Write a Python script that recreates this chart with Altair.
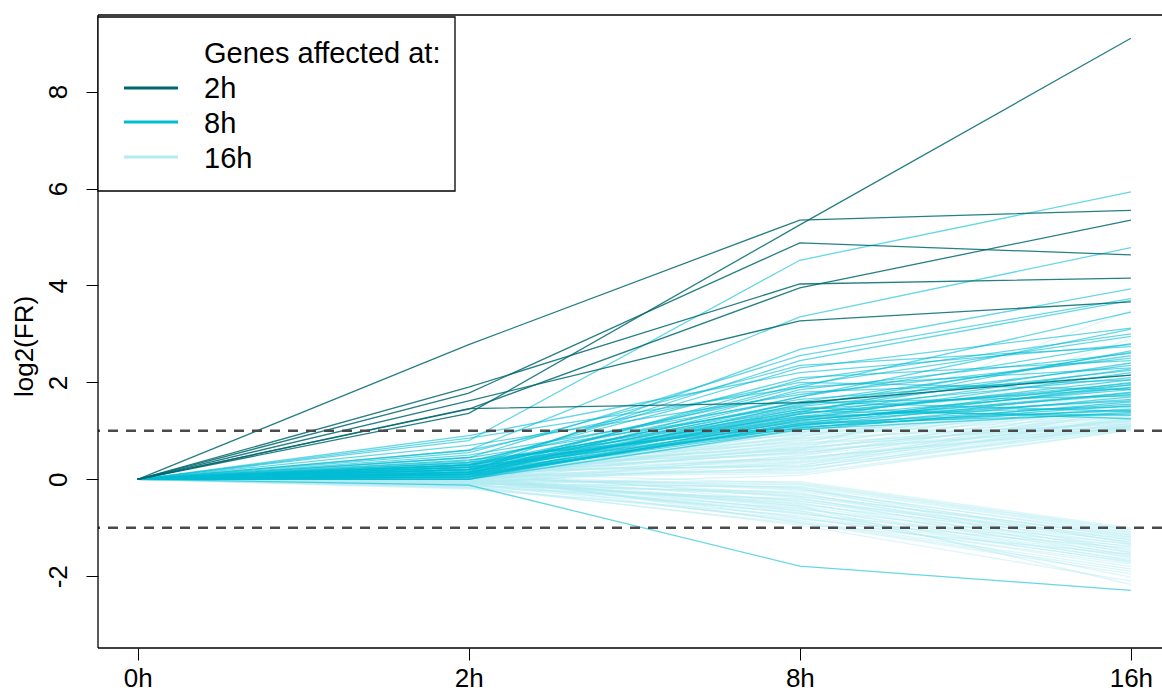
import altair as alt
import pandas as pd

# Time points and their axis labels
TIME_LABELS = ["0h", "2h", "8h", "16h"]

# log2 fold ratio of each gene at 2h / 8h / 16h (0h is the reference, always 0)
# Genes first affected at 2h
G2_AT_2H = [2.78, 1.36, 1.78, 1.90, 1.45, 1.62, 1.46]
G2_AT_8H = [5.35, 5.25, 4.88, 4.03, 3.95, 3.27, 1.58]
G2_AT_16H = [5.55, 9.10, 4.63, 4.15, 5.35, 3.66, 2.15]

# Genes first affected at 8h
G8_AT_2H = [0.80, 0.60, 0.15, 0.45, 0.25, 0.30, 0.10, 0.90, 0.55, 0.20,
            0.05, 0.35, 0.15, 0.25, 0.00, 0.30, 0.10, 0.20, 0.05, 0.35,
            0.15, 0.25, 0.00, 0.10, 0.30, 0.20, 0.05, 0.40, 0.15, 0.25,
            0.10, 0.00, 0.20, 0.30, 0.50, 0.70, 0.85, 0.60, -0.12, 0.12,
            0.18, 0.22, 0.08, 0.28, 0.38, 0.02, 0.14, 0.33, 0.06, 0.45,
            0.20, 0.30, 0.12, 0.24, 0.04, 0.16]
G8_AT_8H = [4.52, 3.35, 2.68, 2.55, 2.45, 2.30, 2.05, 2.20, 2.35, 1.95,
            1.85, 2.10, 1.70, 1.60, 1.55, 1.50, 1.45, 1.40, 1.35, 1.30,
            1.28, 1.25, 1.22, 1.20, 1.18, 1.15, 1.12, 1.10, 1.08, 1.05,
            1.03, 1.02, 1.30, 1.40, 1.65, 1.75, 1.90, 2.00, -1.79, 1.60,
            1.38, 1.48, 1.12, 1.58, 1.80, 1.26, 1.34, 1.44, 1.16, 1.52,
            1.90, 1.70, 1.06, 1.22, 1.14, 1.36]
G8_AT_16H = [5.93, 4.78, 3.93, 3.73, 3.69, 3.12, 3.00, 2.78, 2.74, 2.95,
             2.60, 2.45, 2.80, 2.55, 2.35, 2.25, 2.10, 2.40, 1.95, 2.05,
             1.85, 2.20, 1.75, 1.90, 1.65, 2.00, 1.55, 1.80, 1.45, 1.70,
             1.38, 1.60, 1.50, 1.32, 2.15, 2.50, 2.30, 1.85, -2.29, 1.40,
             2.65, 1.25, 1.95, 1.72, 2.05, 1.62, 2.28, 1.88, 1.42, 2.62,
             3.45, 3.10, 1.52, 1.78, 1.35, 1.98]

# Genes first affected at 16h
G16_AT_2H = [0.05, 0.10, -0.05, 0.15, 0.00, 0.20, 0.08, -0.10, 0.12, 0.25,
             0.03, 0.18, 0.30, 0.06, 0.22, -0.02, 0.14, 0.35, 0.09, 0.02,
             0.16, -0.08, 0.11, 0.27, 0.04, 0.19, 0.07, 0.32, -0.04, 0.13,
             0.24, 0.01, 0.17, 0.40, 0.10, 0.05, 0.21, 0.00, 0.12, 0.28,
             0.08, 0.15, 0.20, 0.10, 0.45, -0.12, 0.03, 0.26, 0.14, 0.09,
             -0.05, 0.00, -0.10, 0.05, -0.15, 0.08, -0.02, -0.18, 0.10, -0.07,
             0.02, -0.12, 0.06, -0.04, -0.20, 0.03, -0.09, 0.12, -0.14, -0.01,
             0.04, -0.06, -0.11, 0.07, -0.03, 0.01, -0.16, 0.09, -0.08, 0.15,
             -0.05, 0.00, -0.13, 0.05, -0.02, -0.10, 0.02, -0.06, 0.11, -0.17,
             0.13, -0.09]
G16_AT_8H = [0.12, 0.20, 0.25, 0.30, 0.35, 0.40, 0.45, 0.50, 0.55, 0.60,
             0.65, 0.70, 0.75, 0.80, 0.85, 0.90, 0.95, 0.98, 0.15, 0.22,
             0.28, 0.33, 0.38, 0.42, 0.48, 0.52, 0.58, 0.62, 0.68, 0.72,
             0.78, 0.82, 0.88, 0.92, 0.96, 0.18, 0.26, 0.44, 0.56, 0.66,
             0.74, 0.86, 0.60, 0.94, 0.97, 0.08, 0.36, 0.54, 0.64, 0.84,
             -0.05, -0.10, -0.15, -0.20, -0.25, -0.30, -0.35, -0.40, -0.45, -0.50,
             -0.55, -0.60, -0.65, -0.70, -0.75, -0.80, -0.85, -0.90, -0.95, -0.12,
             -0.22, -0.32, -0.42, -0.52, -0.62, -0.72, -0.82, -0.18, -0.28, -0.38,
             -0.48, -0.58, -0.68, -0.78, -0.88, -0.65, -0.55, -0.45, -0.35, -0.92,
             -0.08, -0.16]
G16_AT_16H = [1.02, 1.05, 1.08, 1.10, 1.12, 1.15, 1.04, 1.18, 1.20, 1.06,
              1.22, 1.25, 1.09, 1.28, 1.14, 1.30, 1.35, 1.40, 1.32, 1.45,
              1.50, 1.16, 1.55, 1.24, 1.60, 1.38, 1.65, 1.42, 1.70, 1.48,
              1.75, 1.52, 1.80, 1.58, 1.90, 1.11, 1.03, 1.07, 1.13, 1.19,
              2.10, 2.40, 2.90, 3.48, 2.20, 1.01, 1.26, 1.34, 1.21, 1.62,
              -1.00, -1.05, -1.10, -1.15, -1.20, -1.25, -1.30, -1.35, -1.40, -1.45,
              -1.50, -1.55, -1.60, -1.65, -1.70, -1.75, -1.85, -1.95, -2.10, -1.08,
              -1.12, -1.18, -1.22, -1.28, -1.33, -1.38, -1.42, -1.48, -1.52, -1.58,
              -1.62, -1.68, -1.72, -1.80, -1.90, -2.02, -2.17, -1.25, -1.15, -1.55,
              -1.03, -1.32]

THRESHOLDS = [1, -1]

GROUPS = [
    # name, values at 2h/8h/16h, colour, opacity
    ("16h", G16_AT_2H, G16_AT_8H, G16_AT_16H, "#b2ebf2", 0.45),
    ("8h", G8_AT_2H, G8_AT_8H, G8_AT_16H, "#00bcd4", 0.6),
    ("2h", G2_AT_2H, G2_AT_8H, G2_AT_16H, "#00686e", 0.85),
]

W, H = 1064, 633
FONT = "Liberation Sans"
FS = 26

x_scale = alt.Scale(domain=[-0.12, 3.094], nice=False, zero=False)
y_scale = alt.Scale(domain=[-3.48, 9.58], nice=False, zero=False)

label_expr = "[" + ",".join("'%s'" % s for s in TIME_LABELS) + "][datum.value]"
x_axis = alt.Axis(values=[0, 1, 2, 3], labelExpr=label_expr, title=None,
                  grid=False, domain=False, tickSize=12, tickColor="black",
                  tickWidth=1, labelFontSize=FS, labelFont=FONT,
                  labelColor="black", labelPadding=26,
                  labelBaseline="alphabetic")
y_axis = alt.Axis(values=[-2, 0, 2, 4, 6, 8], labelExpr="toString(datum.value)",
                  title="log2(FR)", grid=False,
                  domain=False, tickSize=12, tickColor="black", tickWidth=1,
                  labelFontSize=FS, labelFont=FONT, labelColor="black",
                  labelAngle=270, labelAlign="center",
                  labelBaseline="alphabetic", labelPadding=20,
                  titleFont=FONT, titleFontSize=FS, titleFontWeight="normal",
                  titleColor="black", titleAngle=270, titleX=-66, titleY=331,
                  titleAlign="center", titleBaseline="alphabetic")


def gene_lines(name, a2, a8, a16, colour, opacity):
    rows = []
    for i, (v2, v8, v16) in enumerate(zip(a2, a8, a16)):
        for t, v in enumerate([0.0, v2, v8, v16]):
            rows.append({"gene": f"{name}-{i}", "t": t, "v": v})
    return alt.Chart(pd.DataFrame(rows)).mark_line(
        color=colour, opacity=opacity, strokeWidth=1.3
    ).encode(
        x=alt.X("t:Q", scale=x_scale, axis=x_axis),
        y=alt.Y("v:Q", scale=y_scale, axis=y_axis),
        detail="gene:N",
        order="t:Q",
    )


layers = [gene_lines(*g) for g in GROUPS]

# dashed fold-change thresholds
layers.append(
    alt.Chart(pd.DataFrame({"v": THRESHOLDS})).mark_rule(
        color="#4a4a4a", strokeWidth=2.5, strokeDash=[10, 8]
    ).encode(y=alt.Y("v:Q", scale=y_scale, axis=y_axis))
)

one = pd.DataFrame({"k": [0]})

# plot frame (top, left, bottom)
frame = alt.Chart(one).mark_rule(color="black", strokeWidth=1.3)
layers += [
    frame.encode(x=alt.value(0), x2=alt.value(W), y=alt.value(0)),
    frame.encode(x=alt.value(0), y=alt.value(0), y2=alt.value(H)),
    frame.encode(x=alt.value(0), x2=alt.value(W), y=alt.value(H)),
]

# legend
layers.append(
    alt.Chart(one).mark_rect(fill="white", stroke="black", strokeWidth=1.3).encode(
        x=alt.value(0), x2=alt.value(357), y=alt.value(2), y2=alt.value(176)
    )
)
legend_text = alt.Chart(one).mark_text(
    align="left", baseline="alphabetic", fontSize=29, font=FONT, color="black"
)
layers.append(legend_text.encode(x=alt.value(106), y=alt.value(48),
                                 text=alt.value("Genes affected at:")))
legend_rows = [("2h", "#00686e", 73, 83), ("8h", "#00bcd4", 107, 118),
               ("16h", "#b2ebf2", 142, 153)]
for label, colour, ly, ty in legend_rows:
    layers.append(
        alt.Chart(one).mark_rule(color=colour, strokeWidth=3).encode(
            x=alt.value(26), x2=alt.value(80), y=alt.value(ly)
        )
    )
    layers.append(legend_text.encode(x=alt.value(106), y=alt.value(ty),
                                     text=alt.value(label)))

chart = alt.layer(*layers).properties(
    width=W, height=H,
    autosize=alt.AutoSizeParams(type="none"),
    padding={"left": 98, "top": 15, "right": 0, "bottom": 46},
).configure_view(stroke=None)

chart.save("out.html", embed_options={"renderer": "svg", "actions": False})
